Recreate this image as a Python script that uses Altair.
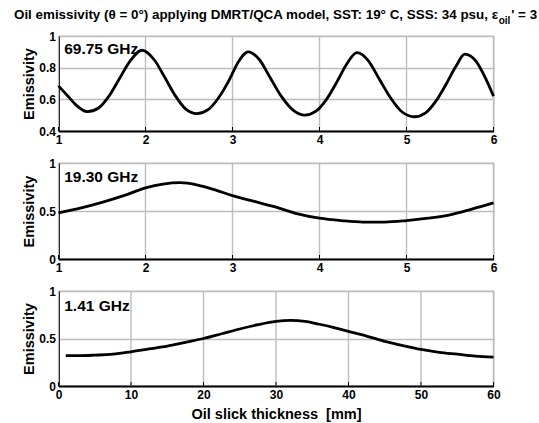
import altair as alt
import pandas as pd

FONT = "Liberation Sans"

# ---- data ----
# 69.75 GHz panel (thickness 1..6 mm)
x_6975 = [1.00, 1.10, 1.20, 1.33, 1.46, 1.58, 1.70, 1.82, 1.96, 2.10, 2.22, 2.34, 2.46, 2.59,
          2.72, 2.84, 2.96, 3.06, 3.18, 3.31, 3.43, 3.56, 3.70, 3.83, 3.96, 4.08, 4.20, 4.31,
          4.43, 4.56, 4.68, 4.81, 4.95, 5.09, 5.22, 5.34, 5.46, 5.57, 5.67, 5.80, 5.92, 6.00]
y_6975 = [0.685, 0.625, 0.565, 0.522, 0.545, 0.620, 0.730, 0.840, 0.910, 0.850, 0.740, 0.625,
          0.540, 0.510, 0.535, 0.610, 0.720, 0.830, 0.900, 0.850, 0.740, 0.620, 0.530, 0.500,
          0.525, 0.600, 0.710, 0.820, 0.895, 0.845, 0.735, 0.615, 0.520, 0.490, 0.515, 0.590,
          0.700, 0.810, 0.885, 0.840, 0.720, 0.620]

# 19.30 GHz panel
x_1930 = [1.0, 1.25, 1.5, 1.75, 2.0, 2.2, 2.4, 2.6, 2.8, 3.0, 3.25, 3.5, 3.75, 4.0, 4.25,
          4.5, 4.75, 5.0, 5.25, 5.5, 5.75, 6.0]
y_1930 = [0.48, 0.53, 0.59, 0.66, 0.74, 0.78, 0.795, 0.77, 0.72, 0.66, 0.60, 0.54, 0.47,
          0.425, 0.40, 0.385, 0.385, 0.40, 0.425, 0.46, 0.52, 0.585]

# 1.41 GHz panel (thickness 0..60 mm)
x_141 = [1, 3, 5, 7.5, 10, 12.5, 15, 17.5, 20, 22.5, 25, 27.5, 30, 32, 34, 36, 38, 40,
         42.5, 45, 47.5, 50, 52.5, 55, 57.5, 60]
y_141 = [0.32, 0.32, 0.325, 0.335, 0.36, 0.39, 0.42, 0.46, 0.50, 0.55, 0.60, 0.645, 0.68,
         0.69, 0.68, 0.65, 0.615, 0.575, 0.525, 0.47, 0.425, 0.385, 0.355, 0.335, 0.315, 0.305]

xt_small = [1, 2, 3, 4, 5, 6]
xt_large = [0, 10, 20, 30, 40, 50, 60]
yt_top = [0.4, 0.6, 0.8, 1.0]
yt_low = [0, 0.5, 1]

labels = ["69.75 GHz", "19.30 GHz", "1.41 GHz"]
title_main = "Oil emissivity (\u03b8 = 0\u00b0) applying DMRT/QCA model, SST: 19\u00b0 C, SSS: 34 psu, \u03b5"
title_sub = "oil"
title_end = "' = 3"
x_title = "Oil slick thickness\u00a0 [mm]"
y_title = "Emissivity"

W = 435
GRID = "#bcbcbc"


def panel(xs, ys, xdom, xticks, ydom, yticks, label, label_y, h, xtitle=None, title=False):
    df = pd.DataFrame({"x": xs, "y": ys})
    xkw = dict(values=xticks, format="~r", labelFlush=False, labelOverlap=False,
               tickSize=0, labelPadding=3, grid=False)
    if xtitle:
        xkw["title"] = xtitle
        xkw["titlePadding"] = 7
    else:
        xkw["title"] = ""
    xenc = alt.X("x:Q", scale=alt.Scale(domain=xdom, nice=False, zero=False),
                 axis=alt.Axis(**xkw))
    yenc = alt.Y("y:Q", scale=alt.Scale(domain=ydom, nice=False, zero=False),
                 axis=alt.Axis(values=yticks, format="~r", title=y_title, tickSize=0,
                               labelPadding=3, minExtent=21, maxExtent=21, titlePadding=1,
                               labelFlush=False, labelOverlap=False, grid=True,
                               gridColor=GRID, gridWidth=1.4, gridOpacity=1))
    xgrid = alt.Chart(pd.DataFrame({"x": xticks})).mark_rule(
        color=GRID, strokeWidth=1.4).encode(x=xenc)
    line = alt.Chart(df).mark_line(color="black", strokeWidth=2.8,
                                   interpolate="monotone").encode(x=xenc, y=yenc)
    xtick = alt.Chart(pd.DataFrame({"x": xticks})).mark_rule(
        color="black", strokeWidth=1).encode(x=xenc, y=alt.value(h), y2=alt.value(h - 4))
    lab = alt.Chart(pd.DataFrame({"t": [label]})).mark_text(
        align="left", baseline="alphabetic", font=FONT, fontSize=15.5, fontWeight="bold",
        color="black").encode(x=alt.value(5.7), y=alt.value(label_y), text="t:N")
    layers = [xgrid, line, xtick, lab]
    if title:
        t1 = alt.Chart(pd.DataFrame({"t": [title_main]})).mark_text(
            align="right", baseline="alphabetic", font=FONT, fontSize=13.4, fontWeight="bold",
            color="black").encode(x=alt.value(439.5), y=alt.value(-16.7), text="t:N")
        t2 = alt.Chart(pd.DataFrame({"t": [title_sub]})).mark_text(
            align="left", baseline="alphabetic", font=FONT, fontSize=10, fontWeight="bold",
            color="black").encode(x=alt.value(440.2), y=alt.value(-12), text="t:N")
        t3 = alt.Chart(pd.DataFrame({"t": [title_end]})).mark_text(
            align="left", baseline="alphabetic", font=FONT, fontSize=13.4, fontWeight="bold",
            color="black").encode(x=alt.value(452.7), y=alt.value(-16.7), text="t:N")
        layers += [t1, t2, t3]
    return alt.layer(*layers).properties(width=W, height=h)


p1 = panel(x_6975, y_6975, [1, 6], xt_small, [0.4, 1], yt_top, labels[0], 17.6, 95, title=True)
p2 = panel(x_1930, y_1930, [1, 6], xt_small, [0, 1], yt_low, labels[1], 19.4, 96)
p3 = panel(x_141, y_141, [0, 60], xt_large, [0, 1], yt_low, labels[2], 20, 95, xtitle=x_title)

chart = alt.vconcat(p1, p2, p3, spacing=32, bounds="flush").properties(
    padding={"left": 12.5, "top": 7, "right": 0, "bottom": 0}
).configure(background="white").configure_view(
    stroke="#a8a8a8", strokeWidth=1.2
).configure_axis(
    labelFont=FONT, labelFontSize=12, labelFontWeight="bold", labelColor="black",
    titleFont=FONT, titleFontSize=14.5, titleFontWeight="bold", titleColor="black",
    domainColor="black", domainWidth=2
)

chart.save("out.html", embed_options={"renderer": "svg", "actions": False})
